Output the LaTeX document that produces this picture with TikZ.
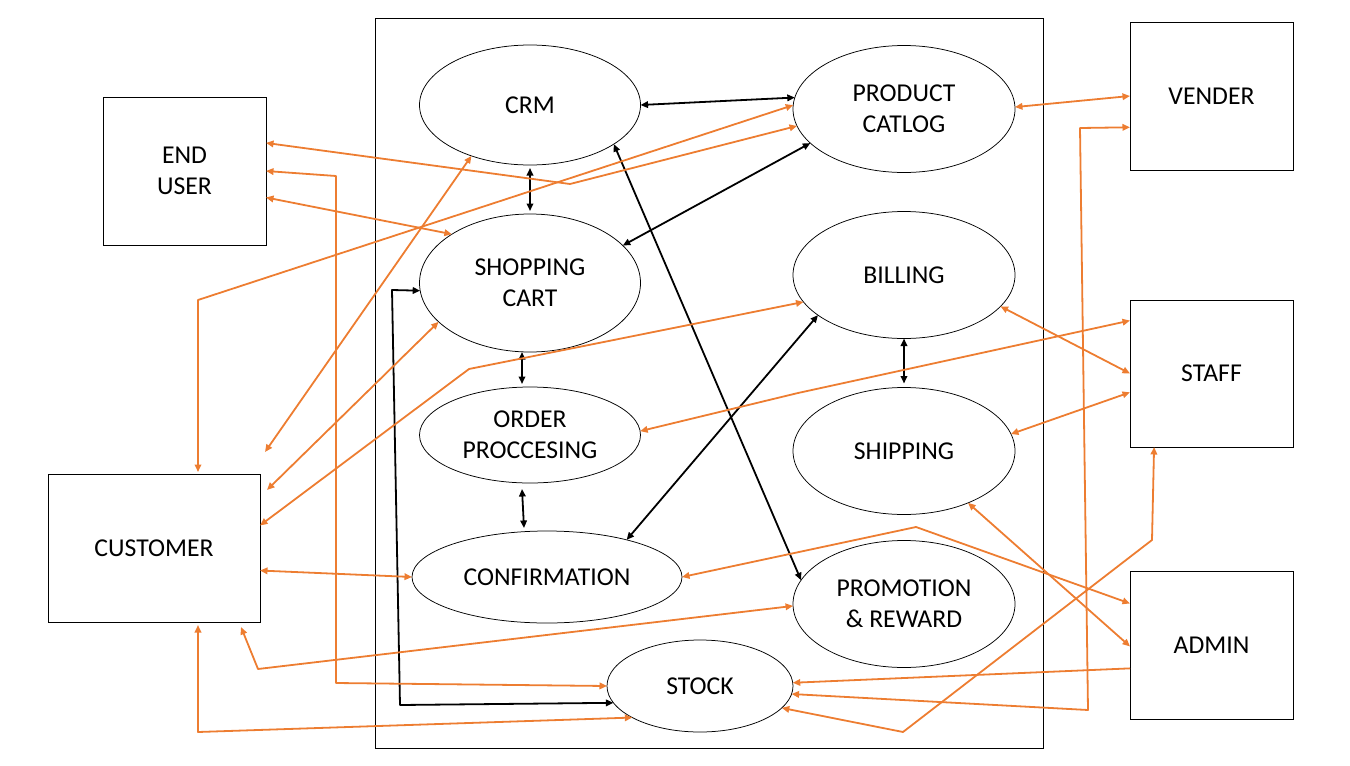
\documentclass[tikz,border=0pt]{standalone}
\usepackage{fontspec}
\setmainfont{Carlito}
\usepackage{tikz}
\usetikzlibrary{shapes.geometric, arrows.meta, calc}
\definecolor{lineorange}{HTML}{ED7D31}

\begin{document}
\begin{tikzpicture}[x=1pt, y=-1pt,
    font=\fontsize{25.7}{31}\selectfont,
    >={Triangle[length=7.5pt,width=6.5pt]},
    proc/.style={draw, ellipse, line width=0.75pt, inner sep=0pt, outer sep=0pt, align=center},
    actor/.style={draw, line width=1pt, inner sep=0pt, outer sep=0pt, align=center,
                  minimum width=163pt, minimum height=148pt},
    bline/.style={line width=1.8pt, line join=round},
    oline/.style={line width=1.8pt, draw=lineorange, line join=round}]
  \useasboundingbox (0,0) rectangle (1350,766);

  % system boundary
  \node[draw, line width=1pt, minimum width=668pt, minimum height=730pt, inner sep=0pt] (sys) at (709,383) {};

  % processes
  \node[proc, minimum width=221pt, minimum height=120pt] (crm) at (530,105) {CRM};
  \node[proc, minimum width=222pt, minimum height=127pt] (pc) at (904,109) {PRODUCT\\CATLOG};
  \node[proc, minimum width=221pt, minimum height=138pt] (sc) at (530,283) {SHOPPING\\CART};
  \node[proc, minimum width=222pt, minimum height=127pt] (bill) at (904,275) {BILLING};
  \node[proc, minimum width=221pt, minimum height=96pt] (op) at (530,435) {ORDER\\PROCCESING};
  \node[proc, minimum width=222pt, minimum height=127pt] (ship) at (904,451) {SHIPPING};
  \node[proc, minimum width=270pt, minimum height=92pt] (conf) at (547,577) {CONFIRMATION};
  \node[proc, minimum width=222pt, minimum height=127pt] (promo) at (904,604) {PROMOTION\\\& REWARD};
  \node[proc, minimum width=186pt, minimum height=92pt] (stock) at (700,686) {STOCK};

  % actors
  \node[actor] (eu) at (184.5,171) {END\\USER};
  \node[actor, minimum width=212pt] (cus) at (154,548) {CUSTOMER};
  \node[actor] (ven) at (1211.5,96) {VENDER};
  \node[actor, minimum height=147pt] (staff) at (1211.5,373.5) {STAFF};
  \node[actor] (admin) at (1211.5,645) {ADMIN};

  % bend points
  \coordinate (ja) at (570,184);
  \coordinate (jb) at (336,176);
  \coordinate (jb2) at (336,683);
  \coordinate (jd) at (198,300);
  \coordinate (jg) at (469,369);
  \coordinate (ji) at (258,669);
  \coordinate (jj) at (198,732);
  \coordinate (jk) at (798,393);
  \coordinate (jn) at (916,527);
  \coordinate (jq) at (1088,710);
  \coordinate (jq2) at (1080,128);
  \coordinate (jr) at (903,732);
  \coordinate (jr2) at (1152,540);
  \coordinate (k1) at (392,290);
  \coordinate (k2) at (400,705);

  % internal links
  \draw[bline, <->] (crm.east) -- (pc.174);
  \draw[bline, <->] ([yshift=-3pt]crm.south) -- ([yshift=3pt]sc.north);
  \draw[bline, <->] (sc.22) -- (pc.200);
  \draw[bline, <->] (crm.-25) -- (promo.167);
  \draw[bline, <->] ([xshift=-8pt]sc.south) -- ([xshift=-8pt,yshift=3pt]op.north);
  \draw[bline, <->] ([xshift=-8pt,yshift=-6pt]op.south) -- ([xshift=-23pt,yshift=3pt]conf.north);
  \draw[bline, <->] (bill.205) -- (conf.25);
  \draw[bline, <->] (bill.south) -- ([yshift=4pt]ship.north);
  \draw[bline, <->] (sc.184) -- (k1) -- (k2) -- (stock.191);

  % actor links
  \draw[oline, <->] (eu.19) -- (ja) -- (pc.189);
  \draw[oline, <->] (eu.east) -- (jb) -- (jb2) -- (stock.west);
  \draw[oline, <->] (eu.-18) -- (sc.148);
  \draw[oline, <->] ($(cus.north)+(44,-2)$) -- (jd) -- (pc.178);
  \draw[oline, <->] ($(cus.north east)+(5,-22)$) -- (crm.221);
  \draw[oline, <->] ($(cus.east)+(7,-58)$) -- (sc.203);
  \draw[oline, <->] (cus.12) -- (jg) -- (bill.195);
  \draw[oline, <->] (cus.-12) -- (conf.west);
  \draw[oline, <->] ($(cus.south)+(87,5)$) -- (ji) -- (promo.181);
  \draw[oline, <->] ($(cus.south)+(44,3)$) -- (jj) -- (stock.205);
  \draw[oline, <->] (op.2) -- (jk) -- (staff.147);
  \draw[oline, <->] (bill.-18) -- (staff.west);
  \draw[oline, <->] (ship.9) -- (staff.193);
  \draw[oline, <->] (conf.east) -- (jn) -- (admin.153);
  \draw[oline, <->] (ship.-39) -- (admin.181);
  \draw[oline, ->] (admin.196) -- (stock.2);
  \draw[oline, <->] (stock.-5) -- (jq) -- (jq2) -- (ven.201);
  \draw[oline, <->] (stock.-15) -- (jr) -- (jr2) -- (staff.232);
  \draw[oline, <->] (pc.1) -- (ven.west);
\end{tikzpicture}
\end{document}
